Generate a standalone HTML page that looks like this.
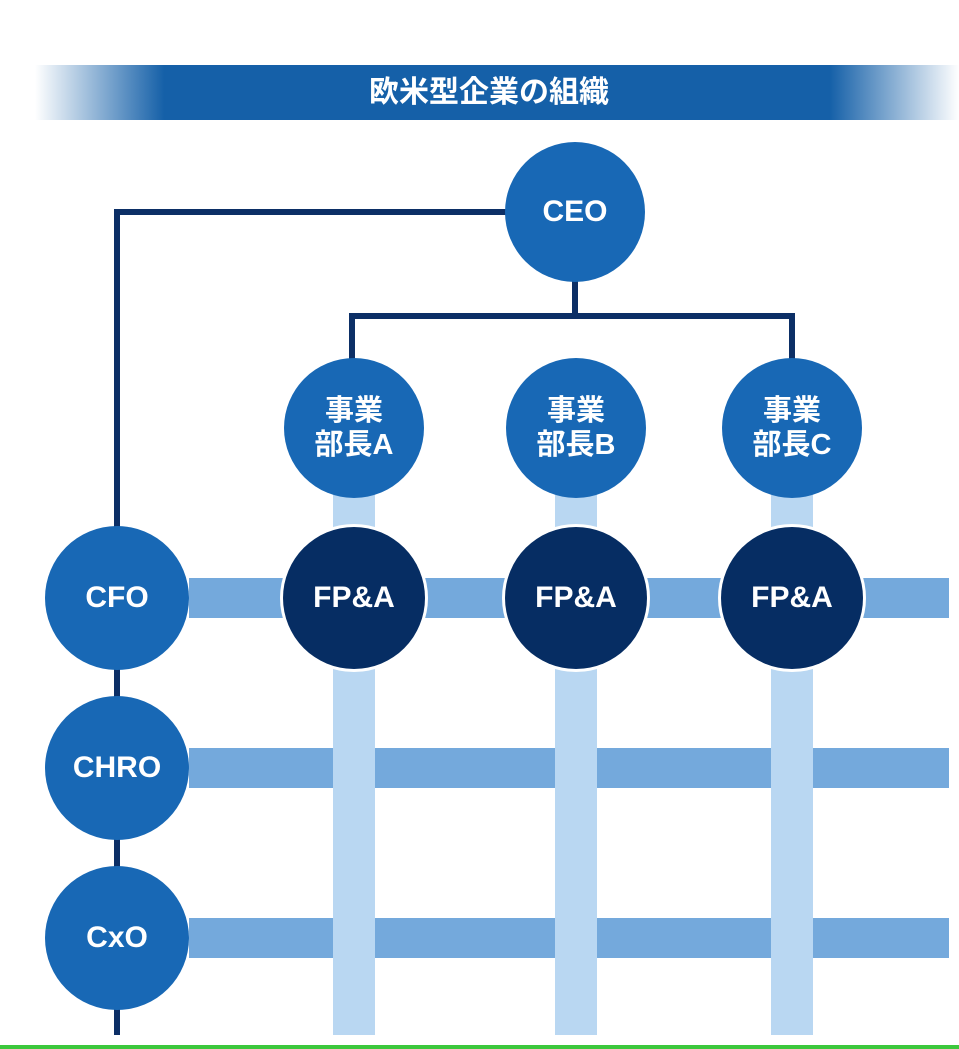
<!DOCTYPE html>
<html><head><meta charset="utf-8"><style>
body{margin:0;width:959px;height:1049px;background:#fff;overflow:hidden;position:relative;font-family:"Liberation Sans","Noto Sans CJK JP",sans-serif}
.ban{position:absolute;left:35px;top:65px;width:924px;height:55px;background:linear-gradient(90deg,rgba(21,96,168,0) 0%,#1560a8 14%,#1560a8 86%,rgba(21,96,168,0) 100%);color:#fff;font-weight:bold;font-size:30px;text-align:center;line-height:55px}
.ban span{position:relative;left:-8px}
.l{position:absolute;background:#0c2f66}
.hb{position:absolute;left:189px;width:760px;height:40px;background:#74a9dc}
.vb{position:absolute;width:42px;top:495px;height:540px;background:#b9d7f2}
.c{position:absolute;border-radius:50%;background:#1868b5;color:#fff;font-weight:bold;display:flex;align-items:center;justify-content:center;text-align:center;font-size:30px;line-height:34px}
.d{background:#062d63;box-shadow:0 0 0 3px #fff}
</style></head><body>
<div class="ban"><span>欧米型企業の組織</span></div>
<div class="l" style="left:114px;top:209px;width:6px;height:826px"></div>
<div class="l" style="left:114px;top:209px;width:461px;height:6px"></div>
<div class="l" style="left:572px;top:212px;width:6px;height:106px"></div>
<div class="l" style="left:349px;top:313px;width:446px;height:6px"></div>
<div class="l" style="left:349px;top:313px;width:6px;height:60px"></div>
<div class="l" style="left:789px;top:313px;width:6px;height:60px"></div>
<div class="hb" style="top:578px"></div>
<div class="hb" style="top:748px"></div>
<div class="hb" style="top:918px"></div>
<div class="vb" style="left:333px"></div>
<div class="vb" style="left:555px"></div>
<div class="vb" style="left:771px"></div>
<div class="c" style="left:505px;top:142px;width:140px;height:140px">CEO</div>
<div class="c" style="left:284px;top:358px;width:140px;height:140px;font-size:29px">事業<br>部長A</div>
<div class="c" style="left:506px;top:358px;width:140px;height:140px;font-size:29px">事業<br>部長B</div>
<div class="c" style="left:722px;top:358px;width:140px;height:140px;font-size:29px">事業<br>部長C</div>
<div class="c" style="left:45px;top:526px;width:144px;height:144px">CFO</div>
<div class="c" style="left:45px;top:696px;width:144px;height:144px">CHRO</div>
<div class="c" style="left:45px;top:866px;width:144px;height:144px">CxO</div>
<div class="c d" style="left:283px;top:527px;width:142px;height:142px">FP&amp;A</div>
<div class="c d" style="left:505px;top:527px;width:142px;height:142px">FP&amp;A</div>
<div class="c d" style="left:721px;top:527px;width:142px;height:142px">FP&amp;A</div>
<div style="position:absolute;left:0;top:1045px;width:959px;height:4px;background:#3cc83c"></div>
</body></html>
